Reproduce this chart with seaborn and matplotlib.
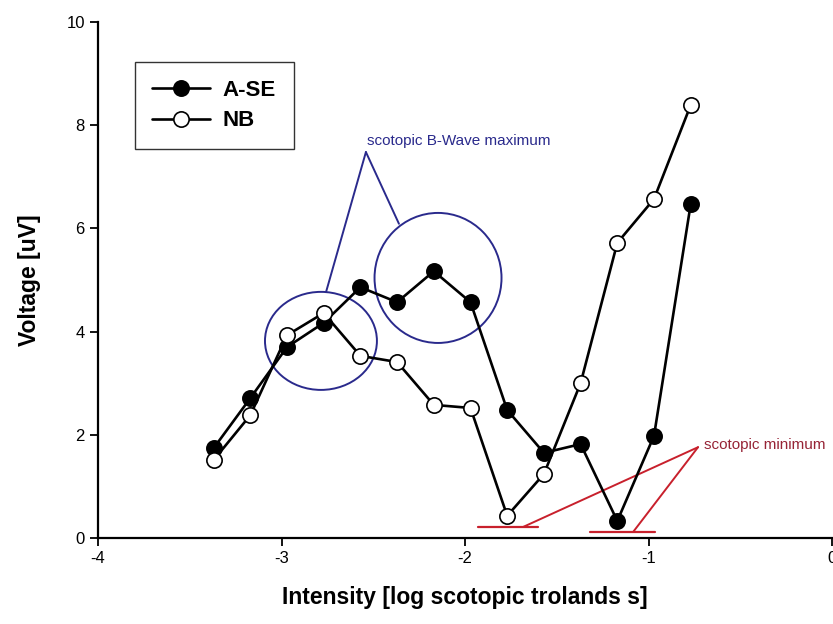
import matplotlib
matplotlib.use("Agg")
import matplotlib.pyplot as plt
from matplotlib.patches import Ellipse
import seaborn as sns
import pandas as pd

# ---- data ----
intensity = [-3.37, -3.17, -2.97, -2.77, -2.57, -2.37, -2.17, -1.97, -1.77, -1.57, -1.37, -1.17, -0.97, -0.77]
ase = [1.74, 2.71, 3.70, 4.17, 4.86, 4.57, 5.17, 4.57, 2.48, 1.65, 1.82, 0.33, 1.98, 6.47]
nb = [1.51, 2.38, 3.93, 4.36, 3.53, 3.41, 2.58, 2.52, 0.43, 1.24, 3.00, 5.72, 6.57, 8.39]
series_names = ["A-SE", "NB"]
x_ticks = [-4, -3, -2, -1, 0]
y_ticks = [0, 2, 4, 6, 8, 10]

# annotation geometry (data coordinates)
bwave_text = "scotopic B-Wave maximum"
bwave_text_pos = (-2.535, 7.70)
bwave_apex = (-2.540, 7.48)
bwave_ends = [(-2.757, 4.77), (-2.360, 6.09)]
bwave_ellipses = [((-2.785, 3.82), 0.61, 1.90), ((-2.147, 5.04), 0.692, 2.52)]

min_text = "scotopic minimum"
min_text_pos = (-0.698, 1.80)
min_apex = (-0.730, 1.76)
min_ends = [(-1.684, 0.213), (-1.084, 0.116)]
min_bars = [((-1.929, -1.602), 0.213), ((-1.319, -0.965), 0.116)]

df = pd.DataFrame({"Intensity": intensity, "A-SE": ase, "NB": nb})

sns.set_style("ticks")
plt.rcParams["font.family"] = ["Liberation Sans", "DejaVu Sans"]
plt.rcParams["axes.unicode_minus"] = False
plt.rcParams["text.color"] = "black"
plt.rcParams["axes.labelcolor"] = "black"

fig = plt.figure(figsize=(8.33, 6.24), dpi=100)
ax = fig.add_axes([98 / 833, 1 - 538 / 624, (832 - 98) / 833, (538 - 22) / 624])

blue = "#2a2a8c"
red_line = "#c8202c"
red_text = "#962436"

# annotations (behind data)
for (cx, cy), w, h in bwave_ellipses:
    ax.add_patch(Ellipse((cx, cy), w, h, fill=False, edgecolor=blue, lw=1.4, zorder=1))
for ex, ey in bwave_ends:
    ax.plot([bwave_apex[0], ex], [bwave_apex[1], ey], color=blue, lw=1.4, zorder=1)
ax.text(bwave_text_pos[0], bwave_text_pos[1], bwave_text, color=blue, fontsize=11,
        ha="left", va="center")

for ex, ey in min_ends:
    ax.plot([min_apex[0], ex], [min_apex[1], ey], color=red_line, lw=1.4, zorder=1)
for (x0, x1), yb in min_bars:
    ax.plot([x0, x1], [yb, yb], color=red_line, lw=1.6, zorder=1)
ax.text(min_text_pos[0], min_text_pos[1], min_text, color=red_text, fontsize=11,
        ha="left", va="center")

# data
sns.lineplot(data=df, x="Intensity", y="A-SE", ax=ax, color="black", lw=1.9,
             marker="o", markersize=11, markerfacecolor="black",
             markeredgecolor="black", markeredgewidth=1.2, label=series_names[0], zorder=3)
sns.lineplot(data=df, x="Intensity", y="NB", ax=ax, color="black", lw=1.9,
             marker="o", markersize=11, markerfacecolor="white",
             markeredgecolor="black", markeredgewidth=1.2, label=series_names[1], zorder=4)

ax.set_xlim(-4, 0)
ax.set_ylim(0, 10)
ax.set_xticks(x_ticks)
ax.set_xticklabels([str(t) for t in x_ticks])
ax.set_yticks(y_ticks)
ax.set_yticklabels([str(t) for t in y_ticks])
ax.tick_params(direction="out", length=6, width=1.3, labelsize=12, colors="black")

sns.despine(ax=ax)
for s in ["left", "bottom"]:
    ax.spines[s].set_linewidth(1.6)
    ax.spines[s].set_color("black")

ax.set_xlabel("Intensity [log scotopic trolands s]", fontsize=16.5, fontweight="bold",
              labelpad=14, color="black")
ax.set_ylabel("Voltage [uV]", fontsize=16.5, fontweight="bold", labelpad=18, color="black")

handles, labels = ax.get_legend_handles_labels()
leg = ax.legend(handles, labels, loc="upper left", bbox_to_anchor=(0.050, 0.922),
                borderaxespad=0, frameon=True, fancybox=False, edgecolor="black",
                prop={"size": 16, "weight": "bold"}, handlelength=2.6,
                handletextpad=0.55, labelspacing=0.42, borderpad=0.8,
                labelcolor="black")
leg.get_frame().set_linewidth(1.0)

fig.savefig("out.png", dpi=100)
